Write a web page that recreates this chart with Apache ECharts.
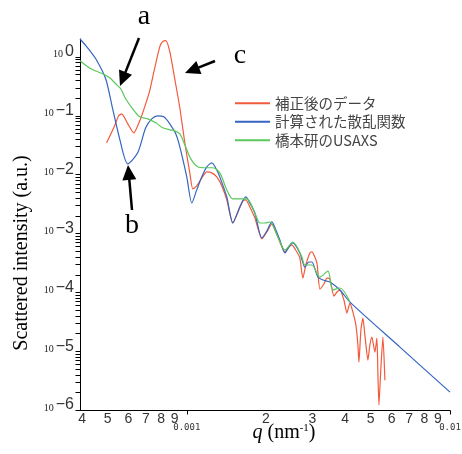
<!DOCTYPE html>
<html>
<head>
<meta charset="utf-8">
<script src="https://cdn.jsdelivr.net/npm/echarts@6/dist/echarts.min.js"></script>
<style>
  html, body { margin: 0; padding: 0; background: #fff; }
  #chart { width: 462px; height: 454px; }
</style>
</head>
<body>
<div id="chart"></div>
<script>
  // 軸の範囲
  var X_MIN = 0.000393, X_MAX = 0.01
  var Y_MIN = 1e-6, Y_MAX = 2.0

  var seriesNames = ['補正後のデータ', '計算された散乱関数', '橋本研のUSAXS']

  // 補正後のデータ
  var redQ = [0.000496, 0.000528, 0.000551, 0.000566, 0.000597, 0.000629, 0.000663, 0.000692, 0.000723, 0.000756,
    0.00079, 0.00081, 0.000832, 0.000862, 0.0009, 0.000941, 0.000983, 0.001027, 0.001054, 0.001091,
    0.00114, 0.001191, 0.001245, 0.0013, 0.001359, 0.001419, 0.001496, 0.001549, 0.001633, 0.001676,
    0.001736, 0.001814, 0.001929, 0.002015, 0.002105, 0.00218, 0.002258, 0.002359, 0.002443, 0.002507,
    0.00262, 0.002689, 0.002761, 0.002834, 0.002935, 0.002987, 0.003121, 0.003204, 0.003318, 0.003407,
    0.003497, 0.003623, 0.003719, 0.003817, 0.003954, 0.004059, 0.004167, 0.004277, 0.004391, 0.004468,
    0.004508, 0.004587, 0.004668, 0.00475, 0.004876, 0.004962, 0.00505, 0.005184, 0.005276, 0.005322,
    0.00537, 0.005464, 0.005561, 0.005659]
  var redI = [0.0345, 0.062, 0.0992, 0.107, 0.0725, 0.051, 0.0816, 0.141, 0.264, 0.65,
    1.48, 1.8, 1.87, 1.22, 0.4225, 0.136, 0.0345, 0.01065, 0.00569, 0.0064,
    0.00876, 0.01107, 0.01065, 0.0091, 0.0064, 0.0037, 0.0015, 0.00206, 0.00356, 0.0037,
    0.00281, 0.00183, 0.000803, 0.001056, 0.001445, 0.001056, 0.000714, 0.000483, 0.000587, 0.000635,
    0.000483, 0.000382, 0.000174, 0.00029, 0.000464, 0.000483, 0.000314, 0.000113, 0.000138, 0.000174,
    0.000168, 0.0000862, 0.000101, 0.000109, 0.0000737, 0.0000443, 0.0000655, 0.0000461, 0.0000277, 0.0000127,
    0.0000065, 0.0000228, 0.0000364, 0.0000187, 0.00000703, 0.0000127, 0.0000173, 0.00000961, 0.0000166, 0.00000423,
    0.00000121, 0.00000534, 0.0000173, 0.00000321]

  // 計算された散乱関数
  var blueQ = [0.000393, 0.00042, 0.000451, 0.000492, 0.000523, 0.000556, 0.000597, 0.000651, 0.000698, 0.000736,
    0.000776, 0.000818, 0.000862, 0.000908, 0.000941, 0.001, 0.001045, 0.001091, 0.00114, 0.001191,
    0.001245, 0.0013, 0.001335, 0.001419, 0.001496, 0.00159, 0.001676, 0.001736, 0.001814, 0.001929,
    0.002015, 0.002105, 0.00218, 0.002258, 0.002359, 0.002443, 0.002529, 0.002689, 0.00281, 0.00291,
    0.002987, 0.003148, 0.003289, 0.003497, 0.003817, 0.004167, 0.006454, 0.01]
  var blueI = [2.0, 1.42, 0.925, 0.4225, 0.1305, 0.0403, 0.01515, 0.02331, 0.062, 0.0882,
    0.0992, 0.0954, 0.0725, 0.049, 0.02947, 0.0091, 0.003289, 0.00547, 0.0091, 0.01347,
    0.01575, 0.01197, 0.0091, 0.004159, 0.001502, 0.002812, 0.004159, 0.003289, 0.002222, 0.000835,
    0.001099, 0.001563, 0.001142, 0.000772, 0.000464, 0.000587, 0.000687, 0.000464, 0.000268, 0.000326,
    0.000326, 0.0001814, 0.0001612, 0.0001491, 0.000109, 0.0000681, 0.0000117, 0.000002008]

  // 橋本研のUSAXS
  var greenQ = [0.000393, 0.000432, 0.000479, 0.00051, 0.000537, 0.000561, 0.000586, 0.000623, 0.000663, 0.000711,
    0.000763, 0.00081, 0.000862, 0.0009, 0.000941, 0.000983, 0.001036, 0.001101, 0.001171, 0.001256,
    0.001335, 0.001419, 0.001496, 0.00159, 0.001691, 0.001814, 0.001895, 0.00198, 0.002068, 0.002218,
    0.002359, 0.002529, 0.002737, 0.00281, 0.002987, 0.003204, 0.003436, 0.003591, 0.003817, 0.004167]
  var greenI = [0.855, 0.625, 0.514, 0.439, 0.347, 0.286, 0.193, 0.1305, 0.0954, 0.0882,
    0.0754, 0.062, 0.0573, 0.0551, 0.049, 0.0319, 0.0184, 0.0135, 0.013, 0.013,
    0.01065, 0.00547, 0.00385, 0.00385, 0.00385, 0.00222, 0.0015, 0.0015, 0.00156, 0.000869,
    0.000522, 0.000714, 0.000397, 0.00029, 0.00029, 0.000181, 0.000229, 0.000109, 0.000118, 0.0000681]

  // 目盛りラベル
  var xDigitValues = [0.0004, 0.0005, 0.0006, 0.0007, 0.0008, 0.0009,
    0.002, 0.003, 0.004, 0.005, 0.006, 0.007, 0.008, 0.009]
  var xDigitText = ['4', '5', '6', '7', '8', '9', '2', '3', '4', '5', '6', '7', '8', '9']
  var xDecadeValues = [0.001, 0.01]
  var xDecadeText = ['0.001', '0.01']
  var yLabelExp = [0, -1, -2, -3, -4, -5, -6]

  var colors = ['#f25a3c', '#3465c0', '#5ac85a']

  function pairs(qs, is) {
    return qs.map(function (q, i) { return [q, is[i]] })
  }

  function lookup(values, texts, val) {
    var idx = 0, best = 1e9
    values.forEach(function (v, i) {
      var d = Math.abs(Math.log10(v) - val)
      if (d < best) { best = d; idx = i }
    })
    return texts[idx]
  }

  // y軸の目盛り (1..9 × 10^n)
  var yTickValues = []
  for (var n = -6; n <= 0; n++) {
    for (var k = 1; k <= 9; k++) {
      var v = k * Math.pow(10, n)
      if (v <= 1.0001) yTickValues.push(v)
    }
  }

  // 目盛り線: [q, I, 向き]  向き 0 = y軸 (左へ), 1 = x軸 (下へ)
  var tickData = yTickValues.map(function (v) { return [X_MIN, v, 0] })
    .concat(xDecadeValues.map(function (v) { return [v, Y_MIN, 1] }))

  function renderTick(params, api) {
    var p = api.coord([api.value(0), api.value(1)])
    var x = Math.round(p[0]) + 0.5, y = Math.round(p[1]) + 0.5
    var shape = api.value(2) === 0
      ? { x1: x - 5, y1: y, x2: x, y2: y }
      : { x1: x, y1: y, x2: x, y2: y + 4 }
    return { type: 'line', shape: shape, style: { stroke: '#000', lineWidth: 1 } }
  }

  function arrow(x1, y1, x2, y2) {
    var dx = x2 - x1, dy = y2 - y1
    var len = Math.sqrt(dx * dx + dy * dy)
    var ux = dx / len, uy = dy / len
    var hl = 15, hw = 7
    var bx = x2 - ux * hl, by = y2 - uy * hl
    return [{
      type: 'line',
      shape: { x1: x1, y1: y1, x2: bx + ux * 2, y2: by + uy * 2 },
      style: { stroke: '#000', lineWidth: 2.5 }
    }, {
      type: 'polygon',
      shape: { points: [[x2, y2], [bx - uy * hw, by + ux * hw], [bx + uy * hw, by - ux * hw]] },
      style: { fill: '#000' }
    }]
  }

  function letter(txt, x, y) {
    return {
      type: 'text',
      style: {
        x: x, y: y, text: txt, fill: '#000',
        font: '28px "Liberation Serif", serif',
        textAlign: 'center', textVerticalAlign: 'middle'
      }
    }
  }

  var hiddenLine = { show: false, onZero: false }

  var myChart = echarts.init(document.getElementById('chart'))

  var option = {
    backgroundColor: '#fff',
    animation: false,
    grid: {
      left: 80,
      right: 12,
      top: 39,
      bottom: 44,
      containLabel: false,
      outerBoundsMode: 'none'
    },
    legend: {
      orient: 'vertical',
      left: 230,
      top: 91,
      icon: 'rect',
      itemWidth: 35,
      itemHeight: 2,
      itemGap: 4,
      textStyle: {
        fontFamily: '"Noto Sans CJK JP"',
        fontSize: 14.5,
        color: '#444'
      },
      data: seriesNames
    },
    xAxis: [{
      type: 'log',
      logBase: 10,
      min: X_MIN,
      max: X_MAX,
      position: 'bottom',
      axisLine: { show: true, onZero: false, lineStyle: { color: '#000', width: 1 } },
      axisTick: { show: false },
      axisLabel: { show: false },
      splitLine: { show: false },
      name: '{i|q} (nm{sup|-1})',
      nameLocation: 'middle',
      nameGap: 13,
      nameMoveOverlap: false,
      nameTextStyle: {
        fontFamily: '"Liberation Serif", serif',
        fontSize: 20,
        color: '#000',
        padding: [0, 0, 0, 38],
        rich: {
          i: { fontFamily: '"Liberation Serif", serif', fontSize: 20, fontStyle: 'italic', color: '#000' },
          sup: { fontFamily: '"Liberation Serif", serif', fontSize: 11, color: '#000', padding: [0, 0, 9, 0] }
        }
      }
    }, {
      // 2..9 の数字ラベル (log10 空間)
      type: 'value',
      min: Math.log10(X_MIN),
      max: Math.log10(X_MAX),
      position: 'bottom',
      axisLine: hiddenLine,
      splitLine: { show: false },
      axisTick: { show: false },
      axisLabel: {
        margin: 2,
        showMinLabel: true,
        showMaxLabel: true,
        fontFamily: '"Liberation Sans", sans-serif',
        fontSize: 14,
        color: '#333',
        customValues: xDigitValues.map(function (v) { return Math.log10(v) }),
        formatter: function (val) { return lookup(xDigitValues, xDigitText, val) }
      }
    }, {
      // 0.001, 0.01 のラベル
      type: 'value',
      min: Math.log10(X_MIN),
      max: Math.log10(X_MAX),
      position: 'bottom',
      axisLine: hiddenLine,
      splitLine: { show: false },
      axisTick: { show: false },
      axisLabel: {
        margin: 13,
        showMinLabel: true,
        showMaxLabel: true,
        fontFamily: '"DejaVu Sans Mono", monospace',
        fontSize: 9,
        color: '#333',
        customValues: xDecadeValues.map(function (v) { return Math.log10(v) }),
        formatter: function (val) { return lookup(xDecadeValues, xDecadeText, val) }
      }
    }],
    yAxis: [{
      type: 'log',
      logBase: 10,
      min: Y_MIN,
      max: Y_MAX,
      position: 'left',
      axisLine: { show: true, onZero: false, lineStyle: { color: '#000', width: 1 } },
      axisTick: { show: false },
      axisLabel: { show: false },
      splitLine: { show: false },
      name: 'Scattered intensity (a.u.)',
      nameLocation: 'middle',
      nameGap: 48,
      nameMoveOverlap: false,
      nameTextStyle: {
        fontFamily: '"Liberation Serif", serif',
        fontSize: 20,
        color: '#000',
        padding: [0, 57, 0, 0]
      }
    }, {
      // 10^n ラベル (log10 空間)
      type: 'value',
      min: Math.log10(Y_MIN),
      max: Math.log10(Y_MAX),
      position: 'left',
      axisLine: hiddenLine,
      splitLine: { show: false },
      axisTick: { show: false },
      axisLabel: {
        margin: 6,
        showMinLabel: true,
        showMaxLabel: true,
        padding: [0, 0, 10, 0],
        customValues: yLabelExp,
        formatter: function (val) {
          var e = Math.round(val)
          return '{b|10}{e|' + (e < 0 ? '\u2212' + (-e) : e) + '}'
        },
        rich: {
          b: { fontFamily: '"Liberation Serif", serif', fontSize: 10, lineHeight: 10, color: '#222', verticalAlign: 'bottom', padding: [0, 2, 0, 0] },
          e: { fontFamily: '"Liberation Sans", sans-serif', fontSize: 16, lineHeight: 16, color: '#333', verticalAlign: 'top', padding: [0, 0, 8, 0] }
        }
      }
    }],
    series: [{
      name: seriesNames[0],
      type: 'line',
      xAxisIndex: 0,
      yAxisIndex: 0,
      showSymbol: false,
      symbol: 'none',
      smooth: 0.2,
      color: colors[0],
      lineStyle: { width: 1.2, color: colors[0] },
      data: pairs(redQ, redI)
    }, {
      name: seriesNames[1],
      type: 'line',
      xAxisIndex: 0,
      yAxisIndex: 0,
      showSymbol: false,
      symbol: 'none',
      smooth: 0.25,
      color: colors[1],
      lineStyle: { width: 1.2, color: colors[1] },
      data: pairs(blueQ, blueI)
    }, {
      name: seriesNames[2],
      type: 'line',
      xAxisIndex: 0,
      yAxisIndex: 0,
      showSymbol: false,
      symbol: 'none',
      smooth: 0.3,
      color: colors[2],
      lineStyle: { width: 1.2, color: colors[2] },
      data: pairs(greenQ, greenI)
    }, {
      // 目盛り線
      name: 'ticks',
      type: 'custom',
      xAxisIndex: 0,
      yAxisIndex: 0,
      clip: false,
      silent: true,
      z: 5,
      renderItem: renderTick,
      encode: { x: 0, y: 1 },
      data: tickData
    }],
    graphic: [].concat(
      arrow(139, 38, 120, 86),
      arrow(215, 61, 185, 73),
      arrow(132, 210, 128, 165),
      [letter('a', 144, 16.5), letter('c', 240, 55.5), letter('b', 132, 225.5)]
    )
  }

  myChart.setOption(option)
</script>
</body>
</html>
